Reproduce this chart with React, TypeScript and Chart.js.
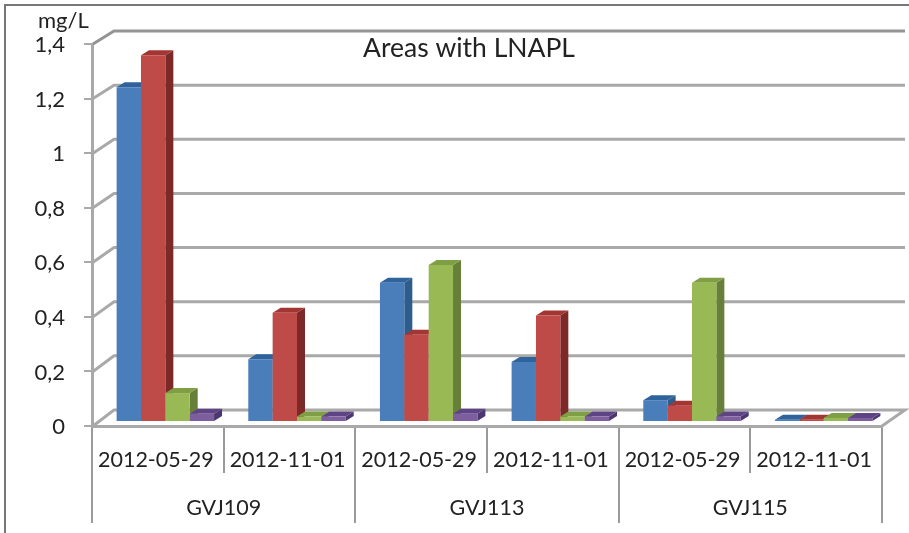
import React, { useEffect, useRef } from "react";
import { Chart, registerables } from "chart.js";

Chart.register(...registerables);

const dates = ["2012-05-29", "2012-11-01", "2012-05-29", "2012-11-01", "2012-05-29", "2012-11-01"];
const wells = ["GVJ109", "GVJ113", "GVJ115"];
const seriesA = [1.227, 0.23, 0.51, 0.22, 0.08, 0.008];
const seriesB = [1.344, 0.4, 0.32, 0.39, 0.06, 0.008];
const seriesC = [0.106, 0.02, 0.575, 0.02, 0.51, 0.015];
const seriesD = [0.03, 0.02, 0.03, 0.02, 0.02, 0.015];
const frontColors = ["#4a7ebb", "#be4b48", "#98b954", "#7d5fa0"];
const sideColors = ["#2c5d8c", "#7c2927", "#66803a", "#4b3870"];
const topColors = ["#2f639b", "#a33532", "#7f9f45", "#5e4485"];
const axisUnit = "mg/L";
const chartTitle = "Areas with LNAPL";

const FONT = "Lato";
const GRID = "#a9a9a9";
const BAR_DX = 7.5;
const BAR_DY = -4;
const SIDE_DX = 8;
const SIDE_DY = -5;

const depth3d = {
  id: "depth3d",
  beforeDraw(chart: any) {
    const { ctx } = chart;
    ctx.save();
    ctx.fillStyle = "#ffffff";
    ctx.fillRect(0, 0, chart.width, chart.height);
    ctx.strokeStyle = "#777777";
    ctx.lineWidth = 2;
    ctx.beginPath();
    ctx.moveTo(5, chart.height);
    ctx.lineTo(5, 5);
    ctx.lineTo(chart.width, 5);
    ctx.stroke();
    ctx.restore();
  },
  beforeDatasetsDraw(chart: any) {
    const { ctx, chartArea: a, scales } = chart;
    const y = scales.y;
    ctx.save();
    ctx.lineWidth = 3;
    y.ticks.forEach((t: any) => {
      const py = y.getPixelForValue(t.value);
      const back = py - 16 + (3 * t.value) / 1.4;
      ctx.strokeStyle = t.value === 1.4 ? "#949494" : GRID;
      ctx.beginPath();
      ctx.moveTo(a.left + 1, py);
      ctx.lineTo(a.left + 22, back);
      ctx.lineTo(905, back);
      if (t.value === 0) ctx.lineTo(a.right, py);
      ctx.stroke();
    });
    ctx.restore();

    // Series are painted left to right so that each bar covers the side of the previous one.
    ctx.save();
    ctx.translate(BAR_DX, BAR_DY);
    chart.getSortedVisibleDatasetMetas().forEach((meta: any) => {
      const i = meta.index;
      meta.data.forEach((bar: any) => {
        const l = bar.x - bar.width / 2;
        const r = bar.x + bar.width / 2;
        const top = bar.y;
        const b = bar.base;
        ctx.fillStyle = sideColors[i];
        ctx.beginPath();
        ctx.moveTo(r, top);
        ctx.lineTo(r + SIDE_DX, top + SIDE_DY);
        ctx.lineTo(r + SIDE_DX, b + SIDE_DY);
        ctx.lineTo(r, b);
        ctx.closePath();
        ctx.fill();
        ctx.fillStyle = topColors[i];
        ctx.beginPath();
        ctx.moveTo(l, top);
        ctx.lineTo(l + SIDE_DX, top + SIDE_DY);
        ctx.lineTo(r + SIDE_DX, top + SIDE_DY);
        ctx.lineTo(r, top);
        ctx.closePath();
        ctx.fill();
      });
      meta.controller.draw();
    });
    ctx.restore();
    return false;
  },
  afterDraw(chart: any) {
    const { ctx } = chart;
    ctx.save();
    ctx.fillStyle = "#222222";
    ctx.textBaseline = "alphabetic";
    ctx.textAlign = "left";
    ctx.font = `22px ${FONT}`;
    ctx.fillText(axisUnit, 38, 28);
    ctx.font = `26.5px ${FONT}`;
    ctx.fillText(chartTitle, 363, 57);
    ctx.restore();
  },
};

export default function App() {
  const ref = useRef<HTMLCanvasElement>(null);
  useEffect(() => {
    const names = ["A", "B", "C", "D"];
    const values = [seriesA, seriesB, seriesC, seriesD];
    const chart = new Chart(ref.current!, {
      type: "bar",
      data: {
        labels: dates,
        datasets: values.map((data, i) => ({
          label: names[i],
          data,
          backgroundColor: frontColors[i],
          borderWidth: 0,
          barPercentage: 1,
          categoryPercentage: 0.74,
        })),
      },
      options: {
        responsive: false,
        animation: false,
        layout: { padding: { top: 44, right: 27, left: 0, bottom: 0 } },
        plugins: { legend: { display: false }, tooltip: { enabled: false } },
        scales: {
          y: {
            min: 0,
            max: 1.4,
            afterFit: (s: any) => { s.width = 92; },
            ticks: {
              stepSize: 0.2,
              color: "#222222",
              padding: 19,
              labelOffset: 1,
              font: { family: FONT, size: 22 },
              callback: (v: any) => String(Math.round(v * 10) / 10).replace(".", ","),
            },
            grid: { drawOnChartArea: false, color: GRID, tickLength: 8, lineWidth: 2 },
            border: { color: GRID, width: 3 },
          },
          x: {
            afterFit: (s: any) => { s.height = 47; },
            ticks: {
              color: "#222222",
              padding: -26,
              labelOffset: -2,
              autoSkip: false,
              maxRotation: 0,
              font: { family: FONT, size: 21.5 },
            },
            grid: { drawOnChartArea: false, color: "#9a9a9a", tickLength: 47, lineWidth: 2, offset: true },
            border: { color: GRID, width: 3 },
          },
          x2: {
            type: "category",
            position: "bottom",
            labels: wells,
            afterFit: (s: any) => { s.height = 60; },
            ticks: {
              color: "#222222",
              padding: -28,
              autoSkip: false,
              maxRotation: 0,
              font: { family: FONT, size: 21.5 },
            },
            grid: { drawOnChartArea: false, color: "#9a9a9a", tickLength: 50, lineWidth: 2, offset: true },
            border: { display: false },
          },
        },
      },
      plugins: [depth3d],
    } as any);
    return () => chart.destroy();
  }, []);
  return (
    <div style={{ position: "absolute", left: 0, top: 0, width: 909, height: 533 }}>
      <canvas ref={ref} width={909} height={533} style={{ display: "block" }} />
    </div>
  );
}
